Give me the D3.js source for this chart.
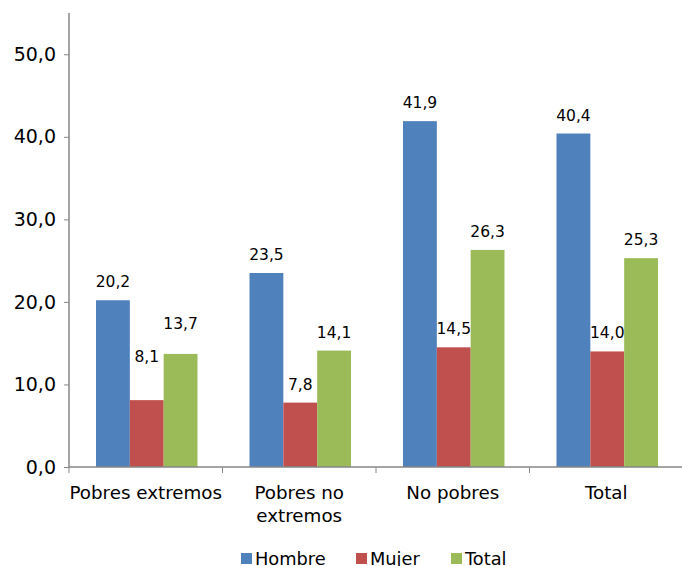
<!DOCTYPE html>
<html lang="es">
<head>
<meta charset="UTF-8" />
<title>Grouped bars</title>
<script src="https://d3js.org/d3.v7.min.js"></script>
<style>
    body { margin: 0; background: #fff; font-family: "DejaVu Sans", Verdana, sans-serif; }
    .axis path, .axis line { stroke: #868686; }
    .axis text { fill: #000; }
</style>
</head>
<body>
<div id="chart"></div>
<script>
    // data
    const categories = ["Pobres extremos", "Pobres no extremos", "No pobres", "Total"];
    const seriesNames = ["Hombre", "Mujer", "Total"];
    const hombre = [20.2, 23.5, 41.9, 40.4];
    const mujer = [8.1, 7.8, 14.5, 14.0];
    const total = [13.7, 14.1, 26.3, 25.3];
    const yTicks = [0, 10, 20, 30, 40, 50];

    const colors = ["#4F81BD", "#C0504D", "#9BBB59"];
    // extra lift (px) for labels that were moved by hand in the original
    const labelLift = { "0-1": 25, "0-2": 12 };

    const W = 682, H = 566;
    const margin = { top: 13, right: 0, bottom: 99, left: 69 };
    const width = 683 - margin.left, height = H - margin.top - margin.bottom;

    const svg = d3.select("#chart").append("svg")
        .attr("width", W).attr("height", H)
        .append("g")
        .attr("transform", `translate(${margin.left},${margin.top})`);

    const x0 = d3.scaleBand().domain(categories).range([0, width]).paddingInner(0).paddingOuter(0);
    const x1 = d3.scaleBand().domain(seriesNames).range([27, x0.bandwidth() - 25]);
    const y = d3.scaleLinear().domain([0, 55]).range([height, 0]);

    const yAxis = svg.append("g").attr("class", "axis")
        .call(d3.axisLeft(y).tickValues(yTicks).tickSize(5).tickPadding(8).tickFormat(d => d3.format(".1f")(d).replace(".", ",")));
    yAxis.select(".domain").attr("d", `M0,0V${height}`).attr("stroke-width", 1.5);
    yAxis.selectAll("text").attr("font-size", "19px").attr("font-family", "DejaVu Sans");

    const rows = categories.map((c, i) => ({ cat: c, i, vals: [hombre[i], mujer[i], total[i]] }));

    const groups = svg.selectAll(".grp").data(rows).enter().append("g")
        .attr("transform", d => `translate(${x0(d.cat)},0)`);

    groups.selectAll("rect").data(d => d.vals.map((v, j) => ({ v, j, i: d.i }))).enter().append("rect")
        .attr("x", d => x1(seriesNames[d.j]))
        .attr("width", x1.bandwidth())
        .attr("y", d => y(d.v))
        .attr("height", d => height - y(d.v))
        .attr("fill", d => colors[d.j]);

    groups.selectAll("text.lbl").data(d => d.vals.map((v, j) => ({ v, j, i: d.i }))).enter().append("text")
        .attr("class", "lbl")
        .attr("x", d => x1(seriesNames[d.j]) + x1.bandwidth() / 2)
        .attr("y", d => y(d.v) - 13 - (labelLift[d.i + "-" + d.j] || 0))
        .attr("text-anchor", "middle")
        .attr("font-size", "15.5px")
        .text(d => d3.format(".1f")(d.v).replace(".", ","));

    // x axis
    const xAxis = svg.append("g").attr("class", "axis")
        .attr("transform", `translate(0,${height})`);
    xAxis.append("path").attr("d", `M0,0H${width}`).attr("fill", "none").attr("stroke-width", 1.5);
    xAxis.selectAll("line").data(d3.range(categories.length + 1)).enter().append("line")
        .attr("x1", i => i * x0.bandwidth()).attr("x2", i => i * x0.bandwidth())
        .attr("y1", 0).attr("y2", 6);

    const catLines = { "Pobres no extremos": ["Pobres no", "extremos"] };
    xAxis.selectAll("text").data(categories).enter().append("text")
        .attr("x", d => x0(d) + x0.bandwidth() / 2)
        .attr("y", 32)
        .attr("text-anchor", "middle")
        .attr("font-size", "18.3px")
        .each(function (d) {
            const lines = catLines[d] || [d];
            lines.forEach((t, k) => d3.select(this).append("tspan")
                .attr("x", x0(d) + x0.bandwidth() / 2).attr("dy", k ? 23 : 0).text(t));
        });

    // legend
    const legend = d3.select("svg").append("g").attr("transform", "translate(241,553)");
    const legendX = [0, 115, 210];
    seriesNames.forEach((s, j) => {
        const g = legend.append("g").attr("transform", `translate(${legendX[j]},0)`);
        g.append("rect").attr("width", 11).attr("height", 11).attr("fill", colors[j]);
        g.append("text").attr("x", 14).attr("y", 12).attr("font-size", "17.8px").text(s);
    });
</script>
</body>
</html>
